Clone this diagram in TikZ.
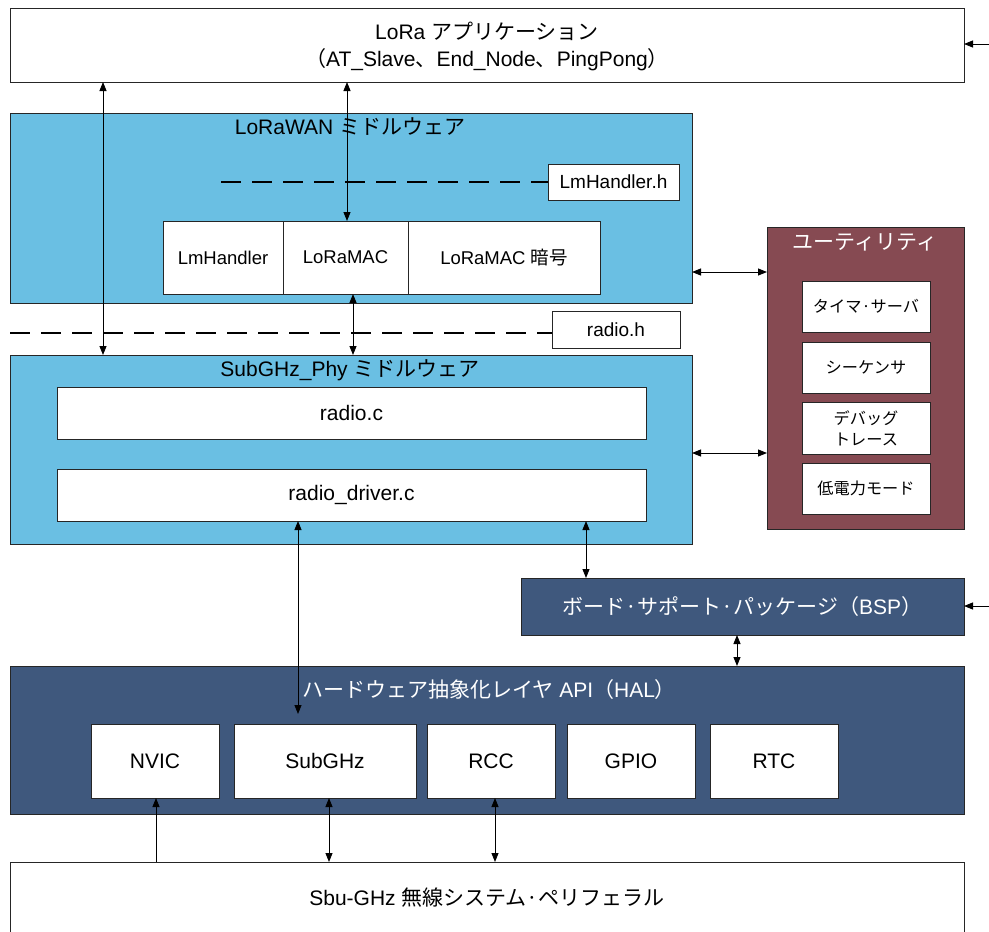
\documentclass[tikz,border=0pt]{standalone}
\usepackage{fontspec}
\setmainfont{Liberation Sans}
\newfontfamily\cjk{Noto Sans CJK JP}
\newcommand\jp[1]{{\cjk #1}}
\usetikzlibrary{arrows.meta}
\definecolor{lblue}{RGB}{106,191,227}
\definecolor{mroon}{RGB}{134,74,82}
\definecolor{dblue}{RGB}{63,88,125}
\begin{document}
\begin{tikzpicture}[x=1pt,y=-1pt,
  bx/.style={draw=black!85, line width=0.9pt, anchor=north west, inner sep=0pt, outer sep=0pt, align=center},
  wbox/.style={bx, fill=white},
  tip/.tip={Triangle[length=9pt,width=7pt]},
  dbl/.style={tip-tip, line width=0.9pt},
  sgl/.style={-tip, line width=0.9pt},
  dsh/.style={line width=2.6pt, dash pattern=on 20pt off 11pt},
  fL/.style={font=\fontsize{21}{26}\selectfont},
  fM/.style={font=\fontsize{18.5}{22}\selectfont},
  fS/.style={font=\fontsize{19}{22}\selectfont},
  fU/.style={font=\fontsize{16.2}{21}\selectfont},
  ttl/.style={fL, inner sep=0pt, align=center}
]
\useasboundingbox (0,0) rectangle (989,932);

% coordinates
\coordinate (xa) at (103,0);
\coordinate (xb) at (347,0);
\coordinate (xc) at (353,0);
\coordinate (xd) at (586,0);
\coordinate (xe) at (737,0);
\coordinate (xf) at (298,0);
\coordinate (xg) at (156,0);
\coordinate (xh) at (329,0);
\coordinate (xi) at (495,0);
\coordinate (ya) at (0,272);
\coordinate (yb) at (0,453);
\coordinate (r1) at (989,44);
\coordinate (r2) at (989,606);
\coordinate (dl1) at (221,182);
\coordinate (dl2) at (10,333);

% LoRa application
\node[wbox, minimum width=954pt, minimum height=74pt] (app) at (10,8) {};
\node[ttl, align=center] (apptxt) at (487,46) {LoRa \jp{アプリケーション}\\[1pt]\jp{（}AT\_Slave\jp{、}End\_Node\jp{、}PingPong\jp{）}};

% LoRaWAN middleware
\node[bx, fill=lblue, minimum width=682pt, minimum height=190pt] (lw) at (10,113) {};
\node[ttl] (lwt) at (350,127) {LoRaWAN \jp{ミドルウェア}};
\node[wbox, fS, minimum width=131pt, minimum height=36pt] (lmh) at (548,164) {LmHandler.h};
\draw[dsh] (dl1) -- (lmh.west);
\node[wbox, fM, minimum width=120pt, minimum height=73pt] (lmhd) at (163,221) {LmHandler};
\node[wbox, fM, minimum width=125pt, minimum height=73pt] (mac) at (283,221) {LoRaMAC};
\node[wbox, fM, minimum width=192pt, minimum height=73pt] (macc) at (408,221) {LoRaMAC \jp{暗号}};

% radio.h
\node[wbox, fS, minimum width=128pt, minimum height=37pt] (rh) at (552,311) {radio.h};
\draw[dsh] (dl2) -- (dl2 -| rh.west);

% SubGHz_Phy middleware
\node[bx, fill=lblue, minimum width=682pt, minimum height=189pt] (sub) at (10,355) {};
\node[ttl] (subt) at (350,370) {SubGHz\_Phy \jp{ミドルウェア}};
\node[wbox, fL, minimum width=589pt, minimum height=52pt] (radioc) at (57,387) {radio.c};
\node[wbox, fL, minimum width=589pt, minimum height=52pt] (radiod) at (57,469) {radio\_driver.c};

% Utilities
\node[bx, fill=mroon, minimum width=197pt, minimum height=302pt] (util) at (767,227) {};
\node[ttl, text=white] (utilt) at (865,242) {\jp{ユーティリティ}};
\node[wbox, fU, minimum width=128pt, minimum height=51pt] (u1) at (802,281) {\jp{タイマ·サーバ}};
\node[wbox, fU, minimum width=128pt, minimum height=51pt] (u2) at (802,342) {\jp{シーケンサ}};
\node[wbox, fU, minimum width=128pt, minimum height=52pt] (u3) at (802,402) {\jp{デバッグ}\\\jp{トレース}};
\node[wbox, fU, minimum width=128pt, minimum height=51pt] (u4) at (802,463) {\jp{低電力モード}};

% BSP
\node[bx, fill=dblue, text=white, fL, minimum width=443pt, minimum height=57pt] (bsp) at (521,578) {\jp{ボード·サポート·パッケージ（}BSP\jp{）}};

% HAL
\node[bx, fill=dblue, minimum width=954pt, minimum height=148pt] (hal) at (10,666) {};
\node[ttl, text=white] (halt) at (489,690) {\jp{ハードウェア抽象化レイヤ} API\jp{（}HAL\jp{）}};
\node[wbox, fL, minimum width=128pt, minimum height=74pt] (nvic) at (91,724) {NVIC};
\node[wbox, fL, minimum width=182pt, minimum height=74pt] (hsub) at (234,724) {SubGHz};
\node[wbox, fL, minimum width=128pt, minimum height=74pt] (rcc) at (427,724) {RCC};
\node[wbox, fL, minimum width=128pt, minimum height=74pt] (gpio) at (567,724) {GPIO};
\node[wbox, fL, minimum width=128pt, minimum height=74pt] (rtc) at (710,724) {RTC};

% Sub-GHz radio system peripheral
\node[wbox, minimum width=954pt, minimum height=100pt] (sys) at (10,862) {};
\node[ttl] (syst) at (487,898) {Sbu-GHz \jp{無線システム·ペリフェラル}};

% connectors
\draw[dbl] (xa |- app.south) -- (xa |- sub.north);
\draw[dbl] (xb |- app.south) -- (xb |- mac.north);
\draw[dbl] (xc |- mac.south) -- (xc |- sub.north);
\draw[dbl] (lw.east |- ya) -- (util.west |- ya);
\draw[dbl] (sub.east |- yb) -- (util.west |- yb);
\draw[dbl] (xd |- radiod.south) -- (xd |- bsp.north);
\draw[dbl] (xe |- bsp.south) -- (xe |- hal.north);
\draw[dbl] (xf |- radiod.south) -- ([yshift=10pt]xf |- hsub.north);
\draw[sgl] (xg |- sys.north) -- (xg |- nvic.south);
\draw[dbl] (xh |- hsub.south) -- (xh |- sys.north);
\draw[dbl] (xi |- rcc.south) -- (xi |- sys.north);
\draw[sgl] (r1) -- (r1 -| app.east);
\draw[sgl] (r2) -- (r2 -| bsp.east);
\end{tikzpicture}
\end{document}
